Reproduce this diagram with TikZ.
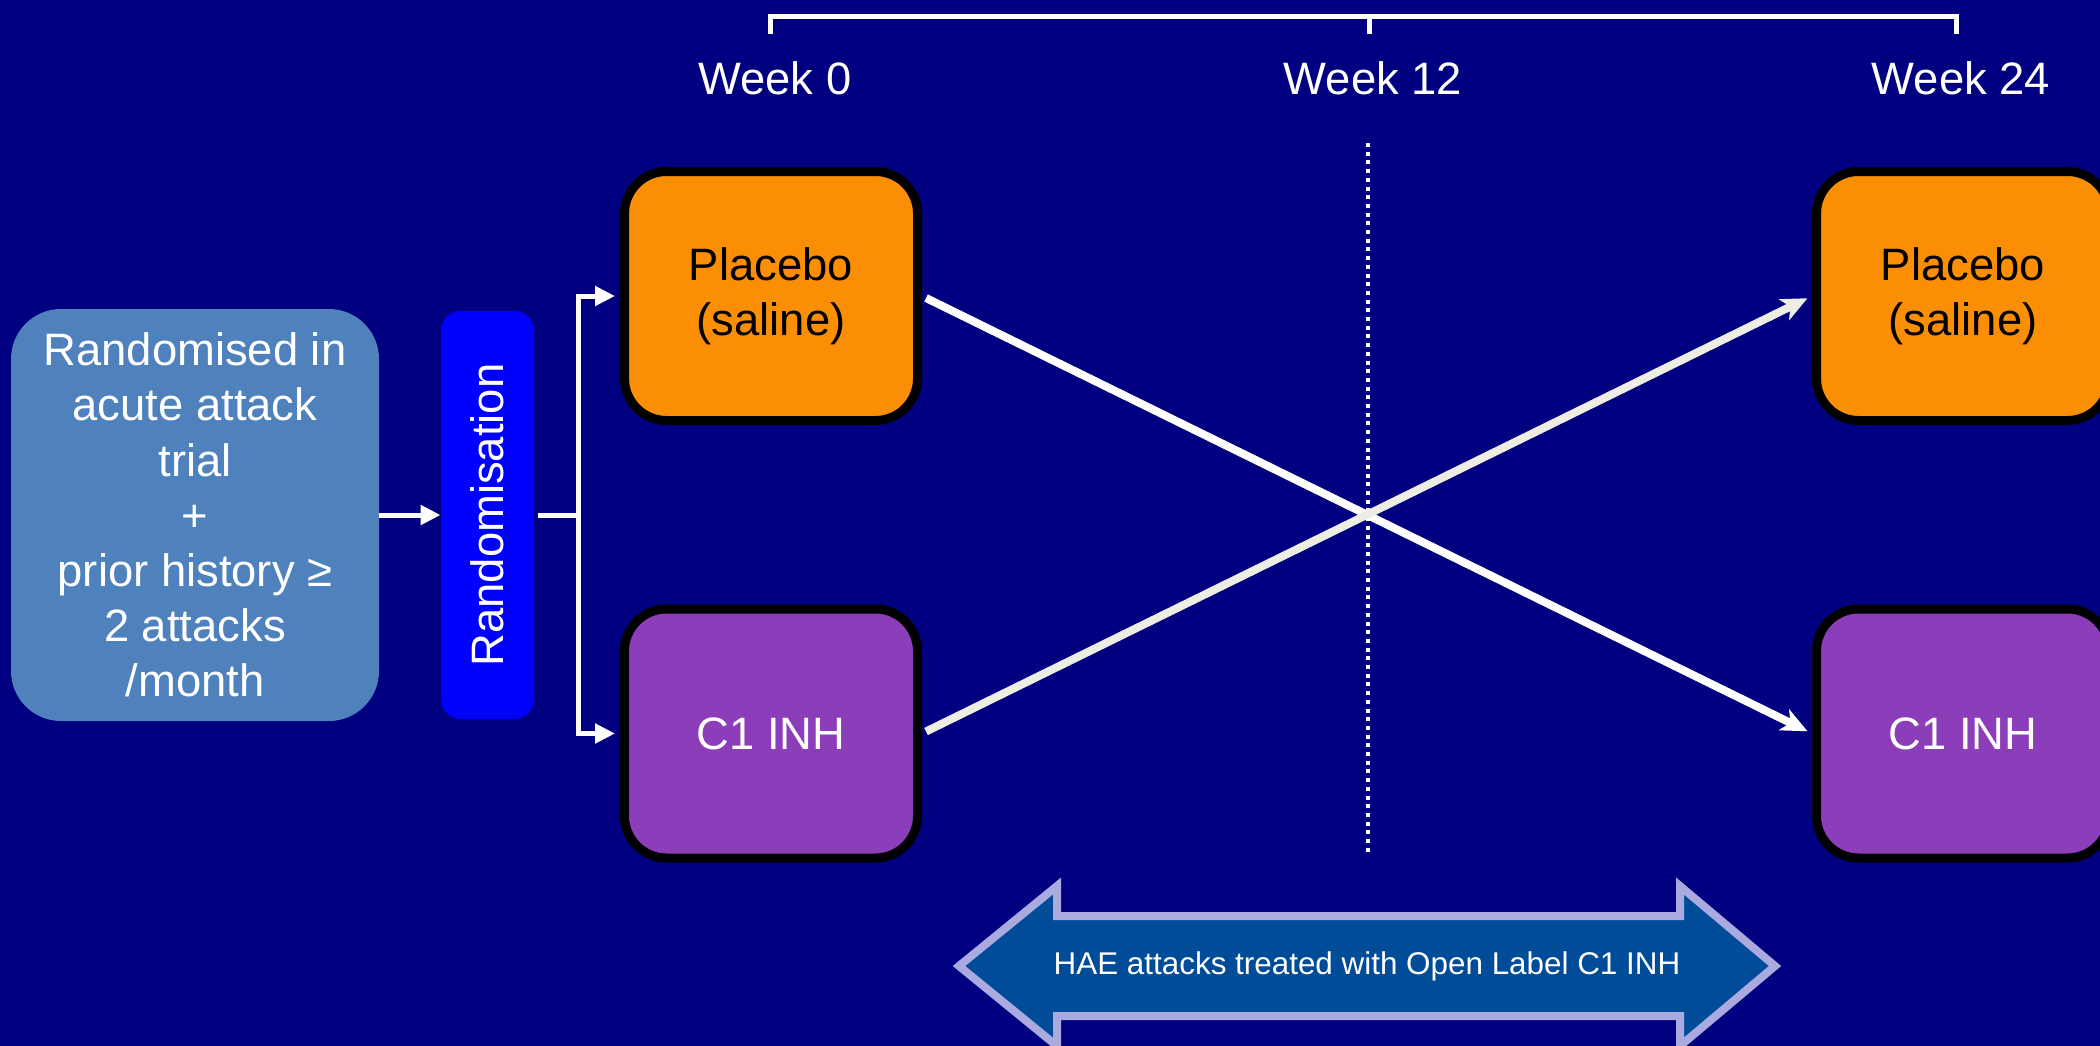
\documentclass[tikz,border=0pt]{standalone}
\usepackage{fontspec}
\setmainfont{Liberation Sans}
\usetikzlibrary{arrows.meta}

\definecolor{bgnavy}{RGB}{0,0,128}
\definecolor{eligblue}{RGB}{79,129,189}
\definecolor{randblue}{RGB}{0,0,255}
\definecolor{placeboorange}{RGB}{250,142,5}
\definecolor{activepurple}{RGB}{140,62,186}
\definecolor{offwhite}{RGB}{238,237,228}
\definecolor{olblue}{RGB}{0,76,152}
\definecolor{olrim}{RGB}{170,170,225}
\newcommand{\bigtext}{\fontsize{22.7}{27.6}\selectfont}
\newcommand{\smalltext}{\fontsize{15.7}{19}\selectfont}

\begin{document}
\begin{tikzpicture}[x=0.5pt, y=-0.5pt,
            arm/.style={draw=black, line width=4.5pt, rounded corners=21pt, minimum width=146.5pt, minimum height=124.5pt, align=center, font=\bigtext},
            placebo/.style={arm, fill=placeboorange, text=black},
            active/.style={arm, fill=activepurple, text=white},
            flow/.style={white, line width=2.5pt, -{Triangle[length=10pt,width=9.5pt]}},
            cross/.style={line width=4pt, -{Stealth[length=13pt,width=11.5pt,inset=3.5pt]}, shorten <=2.25pt, shorten >=2.5pt},
            week/.style={anchor=base, text=white, font=\bigtext}]
        \useasboundingbox (0,0) rectangle (2100,1045);
        \fill[bgnavy] (-20,-20) rectangle (2120,1065);

        % time line
        \draw[white, line width=2.5pt] (770,34) |- (1369,16.5) -| (1956,34);
        \draw[white, line width=2.5pt] (1369,16.5) -- (1369,34);
        \node[week] (wk0) at (775,94) {Week 0};
        \node[week] (wk12) at (1373,94) {Week 12};
        \node[week] (wk24) at (1961,94) {Week 24};
        \draw[white, line width=2pt, dash pattern=on 2pt off 2.35pt] (1368,143) -- (1368,853);

        % entry and randomisation
        \node[fill=eligblue, rounded corners=25pt, minimum width=184pt, minimum height=206pt, inner sep=0pt, align=center, text=white, font=\bigtext] (eligible) at (195,515)
            {Randomised in\\acute attack\\trial\\+\\prior history ≥\\2 attacks\\/month};
        \node[fill=randblue, rounded corners=10pt, minimum width=46.5pt, minimum height=204pt, inner sep=0pt, text=white, font=\bigtext] (rand) at (487.5,515)
            {\rotatebox{90}{Randomisation}};

        % treatment arms
        \node[placebo] (placeboA) at (771,296) {Placebo\\(saline)};
        \node[active] (c1A) at (771,733.5) {C1 INH};
        \node[placebo] (placeboB) at (1963,296) {Placebo\\(saline)};
        \node[active] (c1B) at (1963,733.5) {C1 INH};

        \draw[flow] (eligible.east) -- (rand.west);
        \draw[white, line width=2.5pt] ([xshift=2pt]rand.east) -- ++(40,0) coordinate (split);
        \draw[flow, shorten >=2.5pt] (split) |- (placeboA.west);
        \draw[flow, shorten >=2.5pt] (split) |- (c1A.west);

        % crossover
        \draw[cross, white] (placeboA.east) -- (c1B.west);
        \draw[cross, offwhite] (c1A.east) -- (placeboB.west);

        % open label period
        \filldraw[fill=olblue, draw=olrim, line width=4pt] (959,966) -- (1057,886) -- (1057,916) -- (1680,916) -- (1680,886) -- (1775,966)
            -- (1680,1046) -- (1680,1016) -- (1057,1016) -- (1057,1046) -- cycle;
        \node[font=\smalltext, text=white] (hae) at (1367,966) {HAE attacks treated with Open Label C1 INH};
    \end{tikzpicture}
\end{document}
